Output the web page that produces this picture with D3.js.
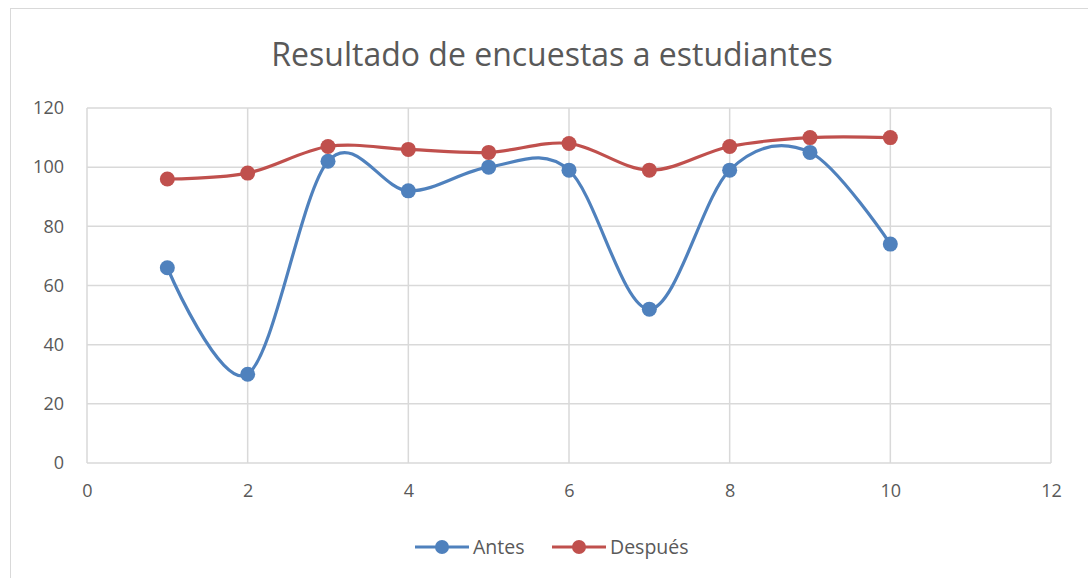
<!DOCTYPE html>
<html>
<head>
<meta charset="utf-8">
<script src="https://cdn.jsdelivr.net/npm/d3@7"></script>
<style>
  body { margin: 0; background: #fff; }
  text { font-family: "Open Sans", "Noto Sans", sans-serif; fill: #595959; }
</style>
</head>
<body>
<div id="chart"></div>
<script>
// data
const xValues = [1, 2, 3, 4, 5, 6, 7, 8, 9, 10];
const antes = [66, 30, 102, 92, 100, 99, 52, 99, 105, 74];
const despues = [96, 98, 107, 106, 105, 108, 99, 107, 110, 110];
const xTicks = [0, 2, 4, 6, 8, 10, 12];
const yTicks = [0, 20, 40, 60, 80, 100, 120];
const seriesNames = ["Antes", "Después"];

const width = 1088, height = 578;
const margin = { top: 108, right: 37, bottom: 115, left: 87 };
const innerW = width - margin.left - margin.right,
  innerH = height - margin.top - margin.bottom;

const colors = ["#4f81bd", "#c0504d"];

const svg = d3.select("#chart")
  .append("svg")
  .attr("width", width)
  .attr("height", height);

// outer chart border
svg.append("rect")
  .attr("x", 10.5).attr("y", 8.5)
  .attr("width", width).attr("height", height)
  .attr("fill", "none")
  .attr("stroke", "#d9d9d9");

svg.append("text")
  .attr("x", 552).attr("y", 66)
  .attr("text-anchor", "middle")
  .style("font-size", "32px")
  .text("Resultado de encuestas a estudiantes");

const g = svg.append("g")
  .attr("transform", `translate(${margin.left}, ${margin.top})`);

const x = d3.scaleLinear().domain([0, 12]).range([0, innerW]);
const y = d3.scaleLinear().domain([0, 120]).range([innerH, 0]);

// gridlines
g.selectAll(".hgrid")
  .data(yTicks)
  .join("line")
  .attr("x1", 0).attr("x2", innerW)
  .attr("y1", d => y(d)).attr("y2", d => y(d))
  .attr("stroke", "#d9d9d9")
  .attr("stroke-width", 1.5);

g.selectAll(".vgrid")
  .data(xTicks)
  .join("line")
  .attr("x1", d => x(d)).attr("x2", d => x(d))
  .attr("y1", 0).attr("y2", innerH)
  .attr("stroke", "#d9d9d9")
  .attr("stroke-width", 1.5);

// axes
const xAxis = g.append("g")
  .attr("transform", `translate(0, ${innerH})`)
  .call(d3.axisBottom(x).tickValues(xTicks).tickSize(0).tickPadding(21));
const yAxis = g.append("g")
  .call(d3.axisLeft(y).tickValues(yTicks).tickSize(0).tickPadding(23));
[xAxis, yAxis].forEach(a => {
  a.select(".domain").remove();
  a.selectAll("text").style("font-size", "18px").style("font-family", null);
});

const line = d3.line()
  .x((d, i) => x(xValues[i]))
  .y(d => y(d))
  .curve(d3.curveCatmullRom.alpha(0));

[antes, despues].forEach((vals, k) => {
  g.append("path")
    .datum(vals)
    .attr("d", line)
    .attr("fill", "none")
    .attr("stroke", colors[k])
    .attr("stroke-width", 3.2);

  g.selectAll(".dot" + k)
    .data(vals)
    .join("circle")
    .attr("cx", (d, i) => x(xValues[i]))
    .attr("cy", d => y(d))
    .attr("r", 7.5)
    .attr("fill", colors[k]);
});

// legend
const legendX = [415, 552];
seriesNames.forEach((name, k) => {
  const lg = svg.append("g").attr("transform", `translate(${legendX[k]}, 547)`);
  lg.append("line")
    .attr("x1", 0).attr("x2", 54)
    .attr("stroke", colors[k]).attr("stroke-width", 3.2);
  lg.append("circle").attr("cx", 27).attr("r", 7).attr("fill", colors[k]);
  lg.append("text")
    .attr("x", 58).attr("dy", "0.35em")
    .style("font-size", "19.5px")
    .text(name);
});
</script>
</body>
</html>
